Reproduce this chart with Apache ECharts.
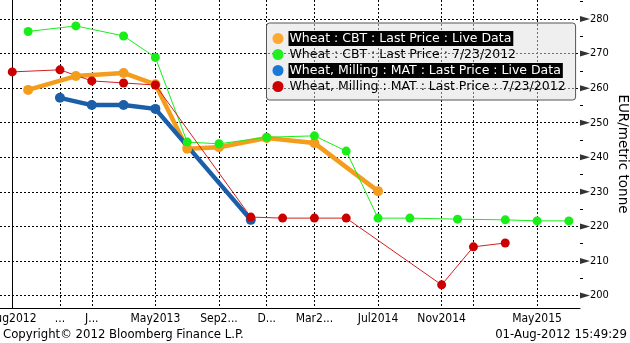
<!DOCTYPE html>
<html><head><meta charset="utf-8">
<script src="https://cdn.jsdelivr.net/npm/echarts@6/dist/echarts.min.js"></script>
<style>html,body{margin:0;padding:0;background:#fff}#c{width:630px;height:343px}</style>
</head><body><div id="c"></div>
<script>
const seriesNames = [
  "Wheat : CBT : Last Price : Live Data",
  "Wheat : CBT : Last Price : 7/23/2012",
  "Wheat, Milling : MAT : Last Price : Live Data",
  "Wheat, Milling : MAT : Last Price : 7/23/2012"
];
const cbtLiveMonths = ["Sep2012","Dec2012","Mar2013","May2013","Jul2013","Sep2013","Dec2013","Mar2014","Jul2014"];
const cbtLiveValues = [259.5,263.5,264.4,261.1,242.5,242.9,245.6,244.1,230.2];
const cbtOldMonths = ["Sep2012","Dec2012","Mar2013","May2013","Jul2013","Sep2013","Dec2013","Mar2014","May2014","Jul2014","Sep2014","Dec2014","Mar2015","May2015","Jul2015"];
const cbtOldValues = [276.4,278.0,275.1,268.9,244.4,243.9,245.8,246.2,241.8,222.4,222.4,222.1,221.9,221.6,221.6];
const matLiveMonths = ["Nov2012","Jan2013","Mar2013","May2013","Nov2013"];
const matLiveValues = [257.2,255.1,255.1,254.0,221.9];
const matOldMonths = ["Aug2012","Nov2012","Jan2013","Mar2013","May2013","Nov2013","Jan2014","Mar2014","May2014","Nov2014","Jan2015","Mar2015"];
const matOldValues = [264.7,265.3,262.1,261.5,260.9,222.7,222.4,222.4,222.4,203.1,214.1,215.2];

const tickMonths = ["Aug2012","Nov2012","Jan2013","May2013","Sep2013","Dec2013","Mar2014","Jul2014","Nov2014","Jan2015","May2015"];
const tickLabels = ["Aug2012","...","J...","May2013","Sep2...","D...","Mar2...","Jul2014","Nov2014","","May2015"];
const yTicks = [200,210,220,230,240,250,260,270,280];
const yMinorTicks = [205,215,225,235,245,255,265,275,285];

const MON = ["Jan","Feb","Mar","Apr","May","Jun","Jul","Aug","Sep","Oct","Nov","Dec"];
function mIdx(s){ return (parseInt(s.slice(3),10)-2012)*12 + MON.indexOf(s.slice(0,3)) - 7; }
function pairs(ms, vs){ return ms.map((m,i)=>[mIdx(m), vs[i]]); }

const xMin = -0.77, xMax = 35.7, yMin = 196.4, yMax = 285.5;
const tickIdx = tickMonths.map(mIdx);
const labelIdx = tickIdx.filter((v,i)=>tickLabels[i] !== "");

const condensed = "'DejaVu Sans Condensed', 'DejaVu Sans', sans-serif";
const wide = "'DejaVu Sans', sans-serif";

const colors = {
  orange: '#f49d1c', orangeLeg: '#ffa833',
  green: '#19ee19', greenLeg: '#22ee22',
  blue: '#1a5fa8', blueLeg: '#1a78d8',
  red: '#cc0000', redLeg: '#cc0000'
};

const chart = echarts.init(document.getElementById('c'), null, {renderer:'canvas'});
chart.setOption({
  animation: false,
  backgroundColor: '#fff',
  grid: { left: 0, right: 50, top: 0, bottom: 35, outerBoundsMode: 'none', containLabel: false },
  xAxis: {
    type: 'value', min: xMin, max: xMax,
    axisLine: { show: true, onZero: false, lineStyle: { color: '#000', width: 1 } },
    axisTick: { show: false, customValues: tickIdx },
    axisLabel: {
      customValues: labelIdx, margin: 5, color: '#000', fontFamily: condensed, fontSize: 12,
      formatter: v => tickLabels[tickIdx.indexOf(Math.round(v))]
    },
    splitLine: { show: true, lineStyle: { color: '#000', type: [2,2], width: 1 } }
  },
  yAxis: [{
    type: 'value', position: 'right', min: yMin, max: yMax,
    axisLine: { show: true, lineStyle: { color: '#000', width: 1 } },
    axisTick: { show: false, customValues: yTicks },
    axisLabel: { customValues: yTicks, margin: 10, color: '#000', fontFamily: condensed, fontSize: 11 },
    splitLine: { show: true, lineStyle: { color: '#000', type: [2,2], width: 1 } },
    name: 'EUR/metric tonne', nameLocation: 'middle', nameRotate: -90, nameGap: 35,
    nameMoveOverlap: false,
    nameTextStyle: { color: '#000', fontFamily: wide, fontSize: 13.5 }
  },{
    type: 'value', position: 'right', min: yMin, max: yMax,
    axisLine: { show: false },
    axisTick: { show: true, customValues: yMinorTicks, length: 3, lineStyle: { color: '#000' } },
    axisLabel: { show: false },
    splitLine: { show: false }
  }],
  legend: {
    orient: 'vertical', left: 266.5, top: 23,
    padding: [8, 8, 6, 6], itemWidth: 11, itemHeight: 11, itemGap: 1,
    icon: 'circle', selectedMode: false,
    backgroundColor: 'rgba(224,224,224,0.5)', borderColor: '#555', borderWidth: 1, borderRadius: 3,
    textStyle: { fontFamily: wide, fontSize: 12.5, lineHeight: 15, color: '#000', padding: [0, 2, 0, 1] },
    data: [
      { name: seriesNames[0], itemStyle: { color: colors.orangeLeg }, textStyle: { color: '#fff', backgroundColor: '#000' } },
      { name: seriesNames[1], itemStyle: { color: colors.greenLeg } },
      { name: seriesNames[2], itemStyle: { color: colors.blueLeg }, textStyle: { color: '#fff', backgroundColor: '#000' } },
      { name: seriesNames[3], itemStyle: { color: colors.redLeg } }
    ]
  },
  series: [
    { name: seriesNames[0], type: 'line', data: pairs(cbtLiveMonths, cbtLiveValues),
      symbol: 'circle', symbolSize: 10, showSymbol: true,
      lineStyle: { color: colors.orange, width: 4.5 }, itemStyle: { color: colors.orange } },
    { name: seriesNames[1], type: 'line', data: pairs(cbtOldMonths, cbtOldValues),
      symbol: 'circle', symbolSize: 9,
      lineStyle: { color: colors.green, width: 1 }, itemStyle: { color: colors.green } },
    { name: seriesNames[2], type: 'line', data: pairs(matLiveMonths, matLiveValues),
      symbol: 'circle', symbolSize: 10,
      lineStyle: { color: colors.blue, width: 4.5 }, itemStyle: { color: colors.blue } },
    { name: seriesNames[3], type: 'line', data: pairs(matOldMonths, matOldValues),
      symbol: 'circle', symbolSize: 9,
      lineStyle: { color: '#d42020', width: 1 }, itemStyle: { color: colors.red } },
    { name: 'ticks', type: 'scatter', silent: true, clip: false, z: 5,
      data: yTicks.map(v => [xMax, v]),
      symbol: 'path://M0,0L10,5L0,10Z', symbolSize: [10, 6], symbolOffset: [5, 0],
      itemStyle: { color: '#000' } }
  ],
  graphic: [
    { type: 'text', left: 3, top: 328, style: { text: 'Copyright\u00a9 2012 Bloomberg Finance L.P.', fill: '#000', font: "13px " + condensed } },
    { type: 'text', right: 3, top: 328, style: { text: '01-Aug-2012 15:49:29', fill: '#000', font: "13px " + condensed } }
  ]
});
</script></body></html>
